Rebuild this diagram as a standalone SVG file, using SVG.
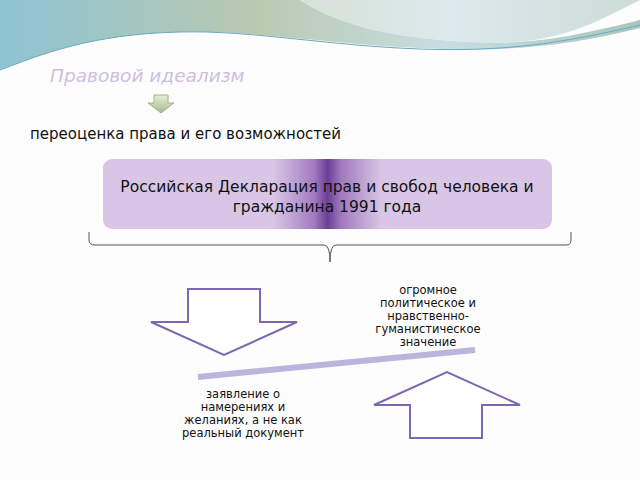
<svg xmlns="http://www.w3.org/2000/svg" width="640" height="480" viewBox="0 0 640 480">
<defs>
<linearGradient id="wave" x1="0" y1="0" x2="1" y2="0"><stop offset="0" stop-color="#8ec3d3"/><stop offset="0.4" stop-color="#b9c9b0"/><stop offset="0.7" stop-color="#c7dde3"/><stop offset="1" stop-color="#a9c6bd"/></linearGradient>
<linearGradient id="box" x1="0" y1="0" x2="1" y2="0">
<stop offset="0" stop-color="#d9c6e6"/><stop offset="0.38" stop-color="#d9c6e6"/><stop offset="0.47" stop-color="#a27cbf"/><stop offset="0.5" stop-color="#6a3f94"/><stop offset="0.53" stop-color="#9f79bd"/><stop offset="0.62" stop-color="#d9c6e6"/><stop offset="1" stop-color="#d9c6e6"/></linearGradient>
<linearGradient id="ga" x1="0" y1="0" x2="0" y2="1"><stop offset="0" stop-color="#e8eedb"/><stop offset="1" stop-color="#a9b98e"/></linearGradient>
<style>.t{font-family:"DejaVu Sans",sans-serif;fill:#111}.arr{fill:#fff;stroke:#7b68b0;stroke-width:2}</style>
</defs>
<rect width="640" height="480" fill="#fdfdfd"/>
<path d="M0,0 H640 V0 L610,15 C560,40 520,45 470,42 C380,38 330,20 300,0 Z" fill="url(#wave)" opacity="0.6"/>
<path d="M0,0 H300 C330,20 380,38 470,42 C520,45 560,40 640,20 L640,28 C560,48 500,52 420,48 C330,44 250,30 180,32 C90,34 40,55 0,70 Z" fill="url(#wave)"/>
<path d="M0,70 C40,55 90,34 180,32 C250,30 330,46 420,49 C500,52 560,44 640,25" fill="none" stroke="#6fa8c0" stroke-width="1"/>
<g id="title"><text x="50" y="82" class="t" style="fill:#cdbfe0;font-style:italic;font-size:18.5px">Правовой идеализм</text></g>
<g id="small-arrow"><path d="M154,95 H168 V103 H174 L161,113 L148,103 H154 Z" fill="url(#ga)" stroke="#a3b08d" stroke-width="1"/></g>
<g id="subtitle"><text x="30" y="139" class="t" style="font-size:15px">переоценка права и его возможностей</text></g>
<g id="declaration"><rect x="103" y="159" width="449" height="70" rx="9" fill="url(#box)"/>
<text x="327" y="192" text-anchor="middle" class="t" style="font-size:15.5px">Российская Декларация прав и свобод человека и</text>
<text x="327" y="212" text-anchor="middle" class="t" style="font-size:15.5px">гражданина 1991 года</text></g>
<g id="connectors">
<path d="M89,232 V240 Q89,245 95,245 H324 Q330,245 330,262 Q330,245 336,245 H566 Q571,245 571,240 V232" fill="none" stroke="#555" stroke-width="1"/>
<line x1="198" y1="377" x2="475" y2="350" stroke="#bbb5dd" stroke-width="6"/>
</g>
<g id="down-arrow"><path class="arr" d="M188,289 H260 V322 H297 L224,355 L151,322 H188 Z"/></g>
<g id="up-arrow"><path class="arr" d="M410,438 H482 V405 H520 L447,372 L374,405 H410 Z"/></g>
<g id="positive" class="t" style="font-size:11.5px" text-anchor="middle">
<text x="428" y="294">огромное</text><text x="428" y="307">политическое и</text><text x="428" y="320">нравственно-</text><text x="428" y="333">гуманистическое</text><text x="428" y="346">значение</text></g>
<g id="negative" class="t" style="font-size:11.5px" text-anchor="middle">
<text x="243" y="398">заявление о</text><text x="243" y="411">намерениях и</text><text x="243" y="424">желаниях, а не как</text><text x="243" y="437">реальный документ</text></g>
</svg>
